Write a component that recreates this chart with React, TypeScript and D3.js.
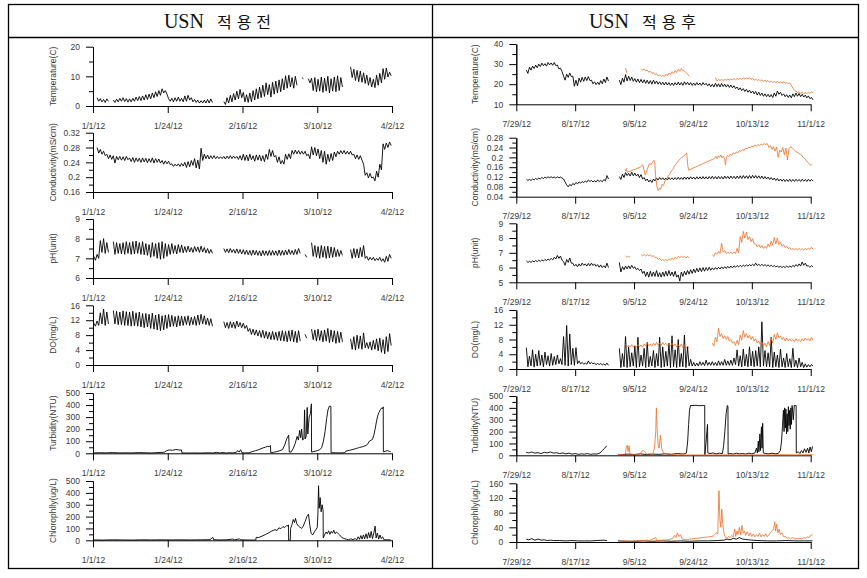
import React, { useEffect, useRef } from 'react'
import * as d3 from 'd3'

const _ = null

// x axis: days counted from the first tick date
const leftTickLabels = ['1/1/12', '1/24/12', '2/16/12', '3/10/12', '4/2/12']
const leftTickDays = [0, 23, 46, 69, 92]
const rightTickLabels = ['7/29/12', '8/17/12', '9/5/12', '9/24/12', '10/13/12', '11/1/12']
const rightTickDays = [0, 19, 38, 57, 76, 95]

const headerPrefix = 'USN'
const headerWords = ['적용전', '적용후']

const axisLabels = ['Temperature(C)', 'Conductivity(mS/cm)', 'pH(unit)', 'DO(mg/L)', 'Turbidity(NTU)', 'Chlorophlly(ug/L)']

const leftMajor = [
  [0, 10, 20],
  [0.16, 0.2, 0.24, 0.28, 0.32],
  [6, 7, 8, 9],
  [0, 4, 8, 12, 16],
  [0, 100, 200, 300, 400, 500],
  [0, 100, 200, 300, 400, 500]
]
const rightMajor = [
  [10, 20, 30, 40],
  [0.04, 0.08, 0.12, 0.16, 0.2, 0.24, 0.28],
  [5, 6, 7, 8, 9],
  [0, 4, 8, 12, 16],
  [0, 100, 200, 300, 400, 500],
  [0, 40, 80, 120, 160]
]

// ---- before USN (daily high / low readings, day 0 = 1/1/12) ----
const leftTempHi = [
  _, 2.8, 2.5, 2.2, 2.4, _, 2.0, 2.3, 2.6, 2.8,
  2.5, 2.4, 2.6, 3.0, 3.2, 3.4, 3.8, 4.0, 4.4, 4.8,
  5.2, 5.8, 5.2, 2.5, 2.6, 2.8, 3.0, 2.6, 3.4, 3.6,
  2.8, 2.2, 2.0, 1.8, 2.0, 2.2, 2.4, _, _, _,
  1.5, 2.8, 3.6, 4.2, 5.0, 5.6, 4.6, 3.8, 4.4, 5.2,
  5.8, 6.4, 7.0, 7.8, 7.2, 8.0, 8.4, 8.8, 9.2, 10.2,
  10.4, 9.6, 10.0, _, 9.6, _, 9.2, 9.4, 9.6, 9.0,
  9.8, 9.4, 10.0, 9.2, 9.8, 10.2, 9.6, _, _, 13.2,
  12.4, 12.0, 11.8, 11.2, 10.4, 9.6, 9.0, 10.4, 11.0, 12.6,
  12.8, 11.4
]
const leftTempLo = [
  _, 1.6, 1.4, 1.2, 1.6, _, 1.2, 1.4, 1.6, 1.5,
  1.3, 1.4, 1.6, 1.8, 1.8, 2.0, 2.2, 2.4, 2.8, 3.2,
  3.6, 4.4, 4.0, 1.6, 1.4, 1.6, 1.6, 1.4, 1.6, 2.0,
  1.4, 1.2, 1.0, 1.0, 1.0, 1.0, 1.2, _, _, _,
  0.5, 1.0, 1.4, 2.0, 2.4, 2.8, 1.4, 1.2, 1.4, 2.0,
  2.4, 2.8, 3.2, 3.8, 3.0, 4.0, 4.4, 4.8, 5.4, 6.0,
  6.4, 6.0, 7.0, _, 9.2, _, 7.8, 5.2, 4.8, 5.0,
  4.6, 5.0, 4.4, 5.0, 4.8, 5.2, 6.4, _, _, 9.6,
  8.6, 8.2, 8.0, 7.6, 7.0, 6.4, 6.2, 7.0, 7.8, 9.0,
  9.8, 10.2
]
const leftCondHi = [
  _, 0.280, 0.275, 0.270, 0.262, 0.260, 0.258, 0.256, 0.256, 0.255,
  0.256, 0.252, 0.253, 0.252, 0.251, 0.252, 0.251, 0.250, 0.252, 0.250,
  0.249, 0.245, 0.244, 0.243, 0.236, 0.235, 0.236, 0.237, 0.240, 0.242,
  0.245, 0.250, 0.246, 0.278, 0.262, 0.260, 0.258, 0.258, 0.256, 0.255,
  0.256, 0.257, 0.258, 0.257, 0.256, 0.258, 0.262, 0.260, 0.262, 0.258,
  0.260, 0.260, 0.258, 0.262, 0.275, 0.272, 0.258, 0.255, 0.245, 0.262,
  0.263, 0.272, 0.273, 0.272, 0.270, 0.270, 0.262, 0.282, 0.280, 0.276,
  0.272, 0.270, 0.262, 0.264, 0.268, 0.270, 0.272, 0.272, 0.270, 0.270,
  0.262, 0.260, 0.258, 0.235, 0.212, 0.210, 0.200, 0.216, 0.235, 0.290,
  0.292, 0.295
]
const leftCondLo = [
  _, 0.265, 0.262, 0.258, 0.250, 0.248, 0.238, 0.247, 0.246, 0.245,
  0.247, 0.242, 0.240, 0.242, 0.240, 0.241, 0.239, 0.240, 0.238, 0.240,
  0.238, 0.235, 0.236, 0.234, 0.229, 0.230, 0.229, 0.230, 0.226, 0.228,
  0.232, 0.225, 0.222, 0.245, 0.250, 0.249, 0.250, 0.250, 0.250, 0.250,
  0.249, 0.250, 0.250, 0.251, 0.248, 0.246, 0.245, 0.244, 0.247, 0.243,
  0.246, 0.244, 0.242, 0.248, 0.256, 0.255, 0.240, 0.236, 0.235, 0.248,
  0.250, 0.262, 0.263, 0.262, 0.262, 0.258, 0.250, 0.260, 0.258, 0.250,
  0.240, 0.235, 0.242, 0.245, 0.255, 0.262, 0.263, 0.262, 0.262, 0.260,
  0.250, 0.248, 0.246, 0.205, 0.198, 0.198, 0.190, 0.200, 0.220, 0.275,
  0.280, 0.285
]
const leftPhHi = [
  7.10, 7.20, 7.90, 8.00, 7.80, _, 7.85, 7.80, 7.75, 7.80,
  7.85, 7.80, 7.85, 7.88, 7.80, 7.85, 7.75, 7.70, 7.80, 7.75,
  7.80, 7.85, 7.75, 7.70, 7.75, 7.65, 7.70, 7.68, 7.60, 7.62,
  7.55, 7.60, 7.58, 7.62, 7.55, 7.50, 7.45, _, _, _,
  7.50, 7.48, 7.50, 7.46, 7.48, 7.45, 7.44, 7.42, 7.40, 7.42,
  7.40, 7.38, 7.40, 7.38, 7.40, 7.40, 7.38, 7.42, 7.40, 7.42,
  7.45, 7.40, 7.45, 7.50, _, 7.20, _, 7.80, 7.65, 7.60,
  7.65, 7.60, 7.62, 7.58, 7.55, 7.45, 7.40, _, _, 7.45,
  7.50, 7.48, 7.55, 7.65, 7.10, 7.05, 7.05, 7.00, 7.05, 6.98,
  7.10, 7.20
]
const leftPhLo = [
  6.90, 7.00, 7.30, 7.25, 7.30, _, 7.20, 7.25, 7.22, 7.20,
  7.25, 7.20, 7.22, 7.25, 7.20, 7.18, 7.15, 7.05, 7.10, 7.00,
  6.95, 7.00, 7.10, 7.20, 7.25, 7.22, 7.30, 7.28, 7.30, 7.32,
  7.30, 7.35, 7.30, 7.32, 7.28, 7.25, 7.25, _, _, _,
  7.30, 7.28, 7.30, 7.26, 7.25, 7.22, 7.20, 7.18, 7.15, 7.17,
  7.15, 7.12, 7.15, 7.14, 7.15, 7.16, 7.14, 7.15, 7.16, 7.18,
  7.20, 7.18, 7.20, 7.25, _, 7.05, _, 7.10, 7.05, 7.00,
  7.05, 7.00, 7.02, 7.05, 7.08, 7.10, 7.15, _, _, 7.00,
  7.05, 7.02, 7.08, 7.00, 6.90, 6.92, 6.88, 6.90, 6.85, 6.80,
  6.85, 7.00
]
const leftDoHi = [
  11.2, 11.8, 14.0, 15.0, 14.2, _, 14.6, 14.4, 14.2, 14.5,
  14.3, 14.2, 14.4, 14.0, 14.2, 13.8, 13.8, 13.6, 13.9, 13.4,
  13.6, 13.2, 13.4, 13.5, 13.3, 13.0, 13.2, 13.1, 13.0, 13.2,
  12.8, 13.0, 13.4, 13.6, 13.2, 12.6, 12.4, _, _, _,
  11.6, 11.4, 11.6, 11.5, 11.8, 11.4, 11.2, 10.6, 9.8, 9.6,
  9.4, 9.2, 9.3, 9.0, 8.8, 9.0, 8.8, 9.0, 9.2, 9.0,
  9.2, 9.4, 9.0, 9.2, _, 8.2, _, 9.6, 9.4, 9.6,
  9.2, 9.4, 9.8, 9.4, 9.2, 9.0, 8.8, _, _, 7.0,
  7.6, 8.0, 7.8, 8.6, 6.0, 6.2, 6.6, 7.0, 7.2, 6.8,
  7.6, 8.4
]
const leftDoLo = [
  10.4, 10.6, 11.0, 10.6, 11.0, _, 11.0, 10.8, 10.8, 10.6,
  10.6, 10.4, 10.5, 10.4, 10.2, 10.0, 10.2, 9.8, 9.6, 9.4,
  9.2, 9.4, 9.8, 10.2, 10.4, 10.2, 10.5, 10.6, 10.8, 10.6,
  10.8, 10.6, 10.8, 11.0, 10.8, 10.6, 10.4, _, _, _,
  10.0, 9.8, 10.0, 9.8, 10.2, 10.0, 9.8, 9.0, 8.2, 8.0,
  7.8, 7.4, 7.2, 7.0, 6.8, 6.8, 6.6, 6.5, 6.4, 6.2,
  6.4, 6.2, 6.0, 6.4, _, 7.2, _, 6.8, 6.4, 6.6,
  6.2, 6.4, 6.0, 6.2, 5.8, 6.0, 6.2, _, _, 4.2,
  4.0, 4.4, 4.2, 4.6, 4.4, 4.0, 4.2, 3.8, 3.4, 3.0,
  3.6, 5.2
]
// [day, value]
const leftTurb = [
  [0.3, 3], [2, 5], [4, 3], [6, 6], [8, 3], [10, 4], [12, 3], [14, 6], [16, 4], [18, 3], [20, 6], [22, 9],
  [22.7, 22], [23.5, 28], [24.5, 25], [25.5, 32], [26.5, 27], [27.2, 28], [27.4, 3], [29, 2], [31, 3], [33, 2],
  [35, 4], [37, 3], [38, 8], [39, 3], [40, 6], [41, 2], [42, 5], [43, 3], [44, 8], [44.6, 22], [45, 10],
  [45.4, 30], [45.8, 6], [46.5, 3], [48, 4], [49, 14], [50, 22], [51, 30], [52, 42], [53, 50], [53.6, 58],
  [54.2, 55], [54.6, 64], [54.7, 5], [55.5, 8], [56.5, 14], [57.5, 22], [58.3, 30], [59, 70], [59.6, 120],
  [60.2, 150], [60.4, 10], [61, 12], [61.6, 40], [62.2, 80], [62.8, 140], [63.2, 110], [63.6, 190], [63.9, 130],
  [64.2, 200], [64.5, 110], [64.9, 120], [65.1, 360], [65.3, 120], [65.6, 140], [65.9, 380], [66.1, 160],
  [66.5, 300], [66.9, 330], [67.2, 410], [67.25, 10], [68, 15], [69, 22], [69.8, 30], [70.4, 50], [70.9, 100],
  [71.4, 180], [71.9, 290], [72.3, 360], [72.7, 390], [73.2, 390], [73.25, 5], [74.5, 4], [76, 3], [77.5, 5],
  [77.8, 18], [79, 25], [80, 32], [81, 40], [82, 48], [83, 55], [84, 65], [84.5, 75], [85, 100], [85.5, 108],
  [86, 115], [86.4, 150], [86.8, 200], [87.2, 260], [87.6, 310], [88, 340], [88.4, 360], [88.8, 375],
  [89.1, 370], [89.3, 385], [89.35, 12], [90, 18], [90.6, 22], [91.2, 16], [91.6, 14]
]
const leftChl = [
  [0.3, 3], [3, 2], [6, 4], [9, 3], [12, 2], [15, 4], [18, 3], [21, 4], [24, 3], [27, 4], [30, 3], [33, 4],
  [36, 5], [36.9, 25], [37.1, 5], [39, 3], [41, 4], [43, 10], [43.6, 4], [45, 12], [45.5, 4], [47, 3], [49, 2],
  [50.1, 2], [50.2, 25], [51, 24], [52, 35], [53, 48], [54, 62], [55, 78], [56, 90], [56.6, 82], [57.2, 105],
  [57.8, 98], [58.4, 115], [59, 108], [59.6, 125], [60, 120], [60.15, 130], [60.2, 0], [60.7, 0], [60.8, 100],
  [61.2, 130], [61.6, 175], [62, 150], [62.3, 185], [62.7, 140], [63.2, 120], [63.7, 110], [64.2, 100],
  [64.7, 120], [65.3, 160], [65.8, 200], [66.3, 220], [66.7, 130], [67.1, 60], [67.6, 45], [68.1, 70],
  [68.6, 90], [69, 110], [69.2, 220], [69.4, 460], [69.6, 270], [69.9, 360], [70.2, 240], [70.5, 300],
  [70.8, 250], [70.85, 20], [71.3, 50], [71.7, 70], [72.1, 55], [72.5, 80], [72.9, 50], [73.3, 75], [73.7, 60],
  [74.1, 85], [74.5, 55], [74.9, 70], [75.3, 60], [75.9, 45], [76.5, 25], [77.2, 15], [77.9, 10], [78.6, 5],
  [79.3, 12], [80, 6], [80.7, 14], [81.2, 5], [81.6, 30], [82, 8], [82.4, 40], [82.8, 10], [83.2, 45],
  [83.6, 12], [84, 55], [84.4, 15], [84.8, 65], [85.2, 20], [85.6, 75], [86, 15], [86.4, 60], [86.8, 120],
  [87.1, 20], [87.5, 60], [87.9, 10], [88.3, 45], [88.7, 15], [89.1, 30], [89.5, 5], [90.5, 4], [91.6, 4]
]

// ---- after USN (day 0 = 7/29/12); black = site A, orange = site B ----
const rightTempHi = [
  _, _, _, 27.0, 28.5, 29.0, 29.5, 30.0, 30.5, 30.2,
  30.8, 30.6, 30.8, 29.5, 28.0, 24.0, 25.0, 25.6, 24.0, 22.0,
  23.0, 23.4, 23.6, 23.8, 22.0, 21.2, 21.0, 21.8, 22.6, 23.6,
  _, _, _, 22.0, 23.0, 24.8, 24.0, 23.6, 22.8, 22.6,
  22.4, 22.2, 22.0, 21.8, 22.0, 21.6, 21.2, 21.0, 21.0, 20.8,
  20.6, 20.8, 21.0, 20.8, 21.2, 21.0, 20.8, 20.6, 20.8, 20.6,
  20.8, 20.4, 20.2, 20.0, 20.4, 20.2, 20.4, 20.0, 19.8, 19.6,
  19.2, 18.6, 18.2, 17.8, 17.4, 17.0, 16.6, 16.4, 16.0, 15.6,
  15.2, 15.0, 14.8, 15.6, 16.6, 16.0, 15.2, 14.8, 14.6, 15.2,
  15.6, 15.4, 15.0, 14.6, 14.2, 13.4
]
const rightTempLo = [
  _, _, _, 25.4, 27.0, 27.8, 28.2, 28.8, 29.2, 29.0,
  29.6, 29.4, 29.2, 27.6, 26.4, 22.0, 23.4, 23.8, 19.0, 19.2,
  21.0, 21.4, 21.8, 21.8, 20.2, 19.8, 19.8, 20.2, 20.8, 21.6,
  _, _, _, 19.8, 21.0, 21.6, 21.8, 21.4, 21.0, 20.8,
  20.6, 20.4, 20.2, 20.0, 20.2, 20.0, 19.8, 19.6, 19.6, 19.4,
  19.4, 19.6, 19.6, 19.4, 19.8, 19.6, 19.4, 19.4, 19.6, 19.4,
  19.6, 19.2, 18.8, 18.6, 18.8, 18.6, 18.8, 18.6, 18.4, 18.2,
  17.8, 17.2, 16.8, 16.4, 16.0, 15.6, 15.2, 14.6, 14.4, 14.0,
  13.8, 13.6, 13.4, 14.0, 15.0, 14.4, 13.8, 13.4, 13.2, 13.8,
  14.0, 13.8, 13.6, 13.2, 12.8, 12.2
]
const rightTempOrHi = [
  _, _, _, _, _, _, _, _, _, _,
  _, _, _, _, _, _, _, _, _, _,
  _, _, _, _, _, _, _, _, _, _,
  _, _, _, _, _, 28.0, _, _, _, _,
  27.8, 27.6, 27.0, 26.4, 25.8, 25.2, 24.6, 24.4, 25.0, 25.6,
  26.2, 26.8, 27.4, 27.8, 26.6, 25.0, _, _, _, _,
  _, _, _, _, 23.2, 22.4, 22.4, 22.4, 22.6, 22.6,
  22.8, 22.8, 23.0, 23.2, 23.2, 23.2, 22.8, 22.6, 22.4, 22.2,
  22.0, 21.8, 21.6, 21.4, 21.4, 21.2, 21.2, 21.0, 20.6, 18.0,
  16.6, 16.2, 16.0, 15.8, 16.0, 16.2
]
const rightTempOrLo = [
  _, _, _, _, _, _, _, _, _, _,
  _, _, _, _, _, _, _, _, _, _,
  _, _, _, _, _, _, _, _, _, _,
  _, _, _, _, _, 25.4, _, _, _, _,
  27.0, 26.6, 26.0, 25.4, 24.8, 24.2, 23.8, 23.8, 24.2, 24.8,
  25.4, 25.8, 26.4, 26.8, 25.8, 24.0, _, _, _, _,
  _, _, _, _, 21.6, 21.8, 21.8, 22.0, 22.0, 22.2,
  22.2, 22.4, 22.4, 22.6, 22.8, 22.4, 22.0, 21.8, 21.6, 21.4,
  21.2, 21.0, 20.8, 20.8, 20.6, 20.6, 20.4, 20.2, 19.4, 17.0,
  15.8, 15.4, 15.2, 15.2, 15.4, 15.8
]
const rightCondHi = [
  _, _, _, 0.112, 0.110, 0.112, 0.114, 0.116, 0.118, 0.120,
  0.121, 0.121, 0.120, 0.121, 0.120, 0.112, 0.088, 0.090, 0.094, 0.098,
  0.100, 0.102, 0.104, 0.108, 0.106, 0.105, 0.108, 0.106, 0.110, 0.126,
  _, _, _, 0.122, 0.132, 0.138, 0.135, 0.140, 0.136, 0.132,
  0.130, 0.118, 0.112, 0.108, 0.112, 0.116, 0.118, 0.117, 0.116, 0.118,
  0.117, 0.118, 0.119, 0.118, 0.120, 0.120, 0.121, 0.120, 0.121, 0.121,
  0.122, 0.121, 0.122, 0.123, 0.122, 0.123, 0.122, 0.124, 0.123, 0.124,
  0.123, 0.124, 0.125, 0.126, 0.125, 0.126, 0.127, 0.126, 0.125, 0.124,
  0.122, 0.120, 0.118, 0.116, 0.114, 0.112, 0.111, 0.110, 0.111, 0.110,
  0.111, 0.110, 0.111, 0.110, 0.111, 0.110
]
const rightCondLo = [
  _, _, _, 0.106, 0.106, 0.108, 0.110, 0.112, 0.114, 0.116,
  0.117, 0.117, 0.116, 0.117, 0.116, 0.100, 0.080, 0.084, 0.088, 0.092,
  0.095, 0.097, 0.099, 0.102, 0.100, 0.100, 0.102, 0.101, 0.104, 0.112,
  _, _, _, 0.110, 0.118, 0.126, 0.124, 0.125, 0.124, 0.118,
  0.112, 0.105, 0.100, 0.098, 0.104, 0.108, 0.110, 0.108, 0.108, 0.110,
  0.109, 0.110, 0.110, 0.110, 0.111, 0.111, 0.112, 0.111, 0.112, 0.112,
  0.112, 0.112, 0.113, 0.113, 0.112, 0.113, 0.112, 0.114, 0.113, 0.114,
  0.113, 0.114, 0.114, 0.115, 0.114, 0.115, 0.116, 0.115, 0.114, 0.113,
  0.112, 0.110, 0.108, 0.106, 0.104, 0.103, 0.102, 0.102, 0.102, 0.102,
  0.103, 0.102, 0.103, 0.102, 0.103, 0.103
]
const rightCondOr = [
  [35.2, 0.145], [35.5, 0.155], [35.8, 0.140], [36.3, 0.142], [38, 0.150], [40, 0.160], [40.8, 0.170],
  [41.2, 0.150], [41.6, 0.128], [42, 0.140], [42.5, 0.160], [43, 0.175], [43.5, 0.170], [44, 0.182],
  [44.4, 0.188], [44.7, 0.175], [45, 0.120], [45.4, 0.080], [45.8, 0.065], [46.2, 0.075], [46.6, 0.070],
  [47, 0.090], [47.5, 0.085], [48, 0.105], [48.5, 0.110], [49, 0.125], [49.5, 0.130], [50, 0.145],
  [50.5, 0.150], [51, 0.165], [51.5, 0.172], [52, 0.180], [52.5, 0.188], [53, 0.196], [53.5, 0.200],
  [54, 0.206], [54.5, 0.210], [55, 0.218], [55.3, 0.170], [55.6, 0.148], [64, 0.196], [64.4, 0.204],
  [64.8, 0.195], [65.2, 0.206], [65.6, 0.200], [66, 0.210], [66.4, 0.198], [66.8, 0.205], [67.2, 0.195],
  [67.5, 0.170], [67.8, 0.200], [68.2, 0.208], [68.6, 0.203], [69, 0.212], [69.5, 0.208], [70, 0.218],
  [70.5, 0.214], [71, 0.222], [71.5, 0.218], [72, 0.228], [72.5, 0.224], [73, 0.232], [73.5, 0.228],
  [74, 0.238], [74.5, 0.234], [75, 0.242], [75.5, 0.238], [76, 0.246], [76.5, 0.242], [77, 0.250],
  [77.5, 0.246], [78, 0.252], [78.5, 0.248], [79, 0.254], [79.5, 0.250], [80, 0.256], [80.5, 0.252],
  [81, 0.256], [81.5, 0.240], [82, 0.248], [82.5, 0.232], [83, 0.244], [83.5, 0.225], [84, 0.242],
  [84.5, 0.200], [85, 0.230], [85.5, 0.222], [86, 0.240], [86.5, 0.210], [87, 0.238], [87.5, 0.190],
  [88, 0.236], [88.5, 0.244], [89, 0.240], [89.5, 0.232], [90, 0.226], [90.5, 0.222], [91, 0.218],
  [91.5, 0.214], [92, 0.210], [92.5, 0.200], [93, 0.196], [93.5, 0.188], [94, 0.180], [94.5, 0.174],
  [95, 0.168], [95.5, 0.172]
]
const rightPhHi = [
  _, _, _, 6.45, 6.42, 6.45, 6.48, 6.50, 6.52, 6.55,
  6.58, 6.62, 6.70, 6.82, 6.78, 6.40, 6.55, 6.65, 6.30, 6.22,
  6.25, 6.30, 6.25, 6.28, 6.30, 6.25, 6.20, 6.18, 6.12, 6.30,
  _, _, _, 6.35, 6.05, 6.10, 6.12, 6.15, 6.05, 5.95,
  5.90, 5.75, 5.70, 5.75, 5.70, 5.80, 5.65, 5.70, 5.75, 5.80,
  5.70, 5.75, 5.50, 5.70, 5.75, 5.80, 5.85, 5.90, 5.95, 5.98,
  6.00, 6.00, 6.02, 5.98, 6.00, 6.02, 6.05, 6.06, 6.08, 6.10,
  6.12, 6.14, 6.15, 6.16, 6.18, 6.20, 6.22, 6.30, 6.22, 6.22,
  6.20, 6.18, 6.16, 6.14, 6.10, 6.08, 6.08, 6.10, 6.10, 6.15,
  6.20, 6.25, 6.38, 6.30, 6.12, 6.12
]
const rightPhLo = [
  _, _, _, 6.35, 6.35, 6.38, 6.40, 6.42, 6.44, 6.46,
  6.50, 6.52, 6.58, 6.62, 6.50, 6.15, 6.35, 6.30, 6.10, 6.05,
  6.10, 6.15, 6.10, 6.12, 6.14, 6.08, 6.02, 6.00, 5.98, 6.00,
  _, _, _, 5.70, 5.85, 5.90, 5.92, 5.95, 5.85, 5.80,
  5.60, 5.40, 5.35, 5.40, 5.40, 5.38, 5.35, 5.40, 5.42, 5.45,
  5.40, 5.35, 5.08, 5.40, 5.50, 5.55, 5.60, 5.65, 5.70, 5.72,
  5.75, 5.80, 5.82, 5.85, 5.88, 5.90, 5.92, 5.94, 5.96, 5.98,
  6.02, 6.04, 6.06, 6.08, 6.10, 6.12, 6.12, 6.14, 6.12, 6.12,
  6.10, 6.08, 6.06, 6.04, 6.02, 6.00, 6.00, 6.02, 6.02, 6.05,
  6.08, 6.10, 6.15, 6.10, 6.02, 6.04
]
const rightPhOrHi = [
  _, _, _, _, _, _, _, _, _, _,
  _, _, _, _, _, _, _, _, _, _,
  _, _, _, _, _, _, _, _, _, _,
  _, _, _, _, _, 6.78, 6.76, _, _, _,
  6.90, 6.88, 6.88, 6.85, 6.80, 6.70, 6.62, 6.55, 6.55, 6.60,
  6.65, 6.70, 6.75, 6.78, 6.75, 6.74, _, _, _, _,
  _, _, _, 6.85, 7.00, 7.10, 7.65, 7.15, 7.05, 7.05,
  7.05, 7.30, 8.10, 8.45, 8.40, 8.10, 7.95, 7.60, 7.55, 7.50,
  7.45, 7.60, 7.80, 8.05, 8.00, 7.70, 7.55, 7.45, 7.35, 7.28,
  7.30, 7.30, 7.28, 7.30, 7.32, 7.38
]
const rightPhOrLo = [
  _, _, _, _, _, _, _, _, _, _,
  _, _, _, _, _, _, _, _, _, _,
  _, _, _, _, _, _, _, _, _, _,
  _, _, _, _, _, 6.70, 6.70, _, _, _,
  6.80, 6.78, 6.80, 6.76, 6.68, 6.55, 6.48, 6.45, 6.45, 6.50,
  6.55, 6.60, 6.65, 6.68, 6.66, 6.66, _, _, _, _,
  _, _, _, 6.75, 6.90, 6.95, 7.05, 6.95, 6.95, 6.95,
  6.95, 7.00, 7.70, 8.00, 7.90, 7.75, 7.60, 7.40, 7.35, 7.30,
  7.30, 7.40, 7.50, 7.60, 7.55, 7.45, 7.35, 7.28, 7.22, 7.20,
  7.18, 7.20, 7.18, 7.20, 7.22, 7.25
]
const rightDoHi = [
  _, _, _, 5.8, 3.5, 5.2, 4.0, 5.0, 3.8, 4.6,
  3.6, 4.2, 3.4, 3.8, 2.8, 8.8, 11.8, 9.5, 5.6, 5.8,
  2.2, 1.8, 1.6, 2.2, 1.8, 1.6, 1.5, 1.5, 1.4, 1.6,
  _, _, _, 5.6, 4.2, 8.8, 6.0, 4.4, 6.2, 8.6,
  3.8, 5.6, 7.2, 3.4, 5.0, 4.2, 8.6, 6.0, 4.8, 7.0,
  9.0, 5.2, 8.0, 4.2, 9.2, 6.0, 2.6, 1.8, 1.6, 2.0,
  1.8, 2.4, 1.8, 2.0, 1.8, 2.2, 2.0, 2.6, 2.2, 2.4,
  3.0, 5.2, 3.6, 5.4, 4.0, 6.0, 4.8, 5.0, 6.0, 12.8,
  5.0, 4.4, 8.6, 4.6, 3.8, 5.4, 3.0, 4.2, 2.8, 5.6,
  2.4, 3.0, 1.8, 1.4, 1.2, 1.2
]
const rightDoLo = [
  _, _, _, 0.6, 0.8, 0.5, 0.8, 1.0, 0.6, 1.2,
  0.8, 1.0, 1.2, 1.4, 1.2, 1.0, 0.8, 1.2, 1.0, 1.4,
  1.4, 1.3, 1.3, 1.4, 1.4, 1.2, 1.2, 1.1, 1.0, 1.0,
  _, _, _, 0.4, 0.6, 0.4, 0.6, 0.8, 0.4, 0.6,
  0.8, 0.4, 0.6, 0.8, 0.4, 0.8, 0.4, 0.6, 0.8, 0.4,
  0.6, 0.4, 0.6, 0.6, 0.4, 0.8, 0.8, 0.8, 0.8, 1.0,
  0.9, 1.0, 1.0, 1.0, 0.9, 1.0, 1.0, 1.0, 1.0, 1.0,
  1.2, 0.8, 0.6, 0.8, 0.6, 0.8, 0.6, 0.8, 0.6, 0.8,
  0.6, 0.6, 0.4, 0.6, 0.4, 0.6, 0.4, 0.6, 0.4, 0.6,
  0.4, 0.6, 0.4, 0.5, 0.6, 0.8
]
const rightDoOrHi = [
  _, _, _, _, _, _, _, _, _, _,
  _, _, _, _, _, _, _, _, _, _,
  _, _, _, _, _, _, _, _, _, _,
  _, _, _, _, _, 6.8, 6.5, 6.6, 6.4, 6.6,
  6.5, 6.8, 7.0, 6.8, 7.0, 7.2, 7.0, 7.2, 7.0, 6.8,
  7.0, 6.8, 6.6, 6.8, 6.4, 6.2, _, _, _, _,
  _, _, _, 7.0, 8.6, 11.0, 9.6, 9.0, 8.8, 8.0,
  7.4, 7.8, 9.2, 10.4, 9.6, 9.2, 8.8, 8.2, 7.6, 7.2,
  7.0, 7.4, 8.4, 9.4, 9.8, 9.0, 8.6, 8.4, 8.2, 8.0,
  8.2, 8.0, 8.2, 8.4, 8.2, 8.6
]
const rightDoOrLo = [
  _, _, _, _, _, _, _, _, _, _,
  _, _, _, _, _, _, _, _, _, _,
  _, _, _, _, _, _, _, _, _, _,
  _, _, _, _, _, 6.0, 6.0, 6.0, 5.9, 6.0,
  5.9, 6.2, 6.3, 6.2, 6.4, 6.5, 6.4, 6.6, 6.4, 6.2,
  6.2, 6.0, 6.0, 5.8, 5.6, 5.6, _, _, _, _,
  _, _, _, 6.2, 7.4, 8.8, 8.2, 8.0, 7.6, 7.0,
  6.4, 6.6, 7.8, 8.6, 8.4, 8.0, 7.6, 7.0, 6.6, 6.2,
  6.0, 6.4, 7.0, 8.0, 8.4, 8.0, 7.6, 7.6, 7.6, 7.4,
  7.6, 7.4, 7.6, 7.8, 7.6, 7.8
]
const rightTurb = [
  [3.2, 25], [4, 20], [5, 28], [6, 18], [7, 22], [8, 15], [9, 25], [10, 20], [11, 28], [12, 18], [13, 22],
  [14, 15], [15, 20], [16, 12], [17, 18], [18, 10], [19, 15], [20, 8], [21, 12], [22, 10], [23, 14], [24, 8],
  [25, 12], [26, 10], [27, 20], [27.8, 40], [28.5, 60], [29.2, 80], [29.3, _],
  [32.8, 8], [34, 5], [36, 10], [38, 6], [40, 12], [42, 6], [44, 10], [46, 8], [48, 12], [50, 8], [52, 15],
  [54, 10], [54.9, 20], [55.3, 120], [55.6, 260], [55.9, 380], [56.2, 420], [57, 420], [58, 422], [59, 418],
  [60, 420], [60.8, 420], [60.85, 5], [61.2, 100], [61.5, 200], [61.7, 260], [61.8, 20], [62.5, 15],
  [63.5, 20], [64.5, 12], [65.5, 18], [66.5, 15], [66.9, 80], [67.3, 200], [67.7, 350], [68.1, 420],
  [68.3, 410], [68.35, 10], [69, 15], [70, 10], [71, 18], [72, 12], [73, 15], [74, 10], [75, 18], [76, 12],
  [77, 20], [77.5, 60], [77.8, 20], [78.1, 120], [78.3, 30], [78.6, 180], [78.8, 40], [79.1, 240], [79.3, 60],
  [79.5, 270], [79.7, 20], [80.5, 15], [81.5, 12], [82.5, 18], [83.5, 12], [84.5, 15], [85.2, 40], [85.6, 120],
  [85.9, 250], [86.2, 380], [86.4, 200], [86.6, 400], [86.8, 230], [87, 390], [87.2, 180], [87.4, 350],
  [87.6, 200], [87.8, 410], [88, 250], [88.2, 380], [88.4, 220], [88.6, 400], [88.8, 260], [89, 420],
  [89.4, 300], [89.7, 420], [90.3, 420], [90.35, 20], [91, 30], [91.5, 15], [92, 40], [92.5, 20], [93, 55],
  [93.5, 25], [94, 60], [94.4, 20], [94.8, 70], [95.2, 30], [95.6, 75]
]
const rightTurbOr = [
  [32.8, 5], [34, 8], [35.2, 10], [35.5, 70], [35.8, 85], [36.1, 30], [36.4, 80], [36.7, 10], [38, 8],
  [40, 10], [40.5, 35], [41, 40], [41.5, 30], [42, 10], [43, 12], [44, 10], [44.6, 60], [45, 200],
  [45.2, 400], [45.5, 200], [45.8, 80], [46.1, 60], [46.5, 170], [46.9, 60], [47.5, 20], [48.5, 15],
  [50, 8], [52, 5], [55, 3], [60, 3], [65, 4], [70, 3], [75, 4], [80, 3], [85, 5], [90, 4], [95.6, 6]
]
const rightChl = [
  [3.2, 8], [4, 6], [5, 9], [6, 5], [7, 8], [8, 5], [9, 6], [10, 4], [11, 5], [12, 4], [14, 4], [16, 3],
  [18, 4], [20, 3], [22, 3], [24, 3], [26, 4], [28, 5], [29.3, 4], [29.4, _],
  [32.8, 3], [35, 2], [38, 2], [41, 3], [44, 2], [47, 3], [50, 2], [53, 3], [56, 2], [59, 3], [62, 3],
  [65, 4], [67, 5], [68, 8], [69, 6], [70, 10], [71, 8], [72, 12], [73, 8], [74, 7], [75, 6], [76, 5],
  [78, 4], [81, 3], [84, 3], [87, 4], [90, 3], [93, 3], [95.6, 3]
]
const rightChlOr = [
  [32.8, 2], [35, 3], [37, 2], [39, 4], [41, 3], [42, 5], [43, 4], [44, 8], [45, 12], [45.3, 4], [47, 5],
  [49, 6], [50.5, 10], [51, 18], [51.5, 12], [52, 25], [52.5, 15], [53, 20], [53.5, 8], [54.5, 6], [56, 8],
  [58, 10], [60, 12], [62, 14], [63.5, 16], [64, 20], [64.5, 25], [65, 22], [65.4, 140], [65.7, 60],
  [66, 40], [66.3, 90], [66.6, 50], [67, 25], [67.5, 12], [68, 10], [68.5, 15], [69, 12], [69.5, 18],
  [70, 14], [70.5, 35], [70.8, 15], [71.2, 30], [71.5, 20], [72, 40], [72.4, 20], [72.8, 45], [73.2, 25],
  [73.6, 30], [74, 18], [74.5, 28], [75, 16], [75.5, 25], [76, 15], [76.5, 22], [77, 14], [77.5, 20],
  [78, 15], [78.5, 24], [79, 14], [79.5, 20], [80, 15], [80.5, 22], [81, 14], [81.5, 20], [82, 25],
  [82.5, 30], [83, 35], [83.4, 55], [83.7, 30], [84, 48], [84.4, 25], [84.8, 35], [85.2, 20], [85.8, 25],
  [86.2, 15], [87, 14], [87.5, 10], [88, 12], [88.5, 8], [89, 12], [90, 8], [91, 10], [92, 9], [93, 12],
  [93.5, 10], [94, 15], [94.5, 12], [95, 18], [95.6, 20]
]

const BLACK = '#000'
const ORANGE = '#ef6d25'
const TEXT = '#3a3a3a'
const SANS = '"Liberation Sans", Arial, sans-serif'

type Pt = [number, number | null]

// each day: high reading then low reading
function zigzag (hi: (number | null)[], lo: (number | null)[]): Pt[] {
  const pts: Pt[] = []
  hi.forEach((h, i) => {
    if (h == null || lo[i] == null) {
      pts.push([i + 0.5, null])
      return
    }
    pts.push([i + 0.25, h])
    pts.push([i + 0.75, lo[i]])
  })
  return pts
}

const leftSeries = [
  [{ pts: zigzag(leftTempHi, leftTempLo), color: BLACK }],
  [{ pts: zigzag(leftCondHi, leftCondLo), color: BLACK }],
  [{ pts: zigzag(leftPhHi, leftPhLo), color: BLACK }],
  [{ pts: zigzag(leftDoHi, leftDoLo), color: BLACK }],
  [{ pts: leftTurb, color: BLACK }],
  [{ pts: leftChl, color: BLACK }]
]
const rightSeries = [
  [{ pts: zigzag(rightTempHi, rightTempLo), color: BLACK }, { pts: zigzag(rightTempOrHi, rightTempOrLo), color: ORANGE }],
  [{ pts: zigzag(rightCondHi, rightCondLo), color: BLACK }, { pts: rightCondOr, color: ORANGE }],
  [{ pts: zigzag(rightPhHi, rightPhLo), color: BLACK }, { pts: zigzag(rightPhOrHi, rightPhOrLo), color: ORANGE }],
  [{ pts: zigzag(rightDoHi, rightDoLo), color: BLACK }, { pts: zigzag(rightDoOrHi, rightDoOrLo), color: ORANGE }],
  [{ pts: rightTurb, color: BLACK }, { pts: rightTurbOr, color: ORANGE }],
  [{ pts: rightChl, color: BLACK }, { pts: rightChlOr, color: ORANGE }]
]

// layout: plot rows (top, bottom) for each column
const columns = [
  {
    x0: 93, x1: 392, days: 92, labelX: 53, titleX: 220,
    tickDays: leftTickDays, tickLabels: leftTickLabels, word: headerWords[0],
    rows: [[46.7, 106], [132.7, 192], [219, 278], [305.3, 365], [393, 453.3], [481, 540.3]],
    major: leftMajor, series: leftSeries
  },
  {
    x0: 516.3, x1: 810.7, days: 95, labelX: 475, titleX: 645,
    tickDays: rightTickDays, tickLabels: rightTickLabels, word: headerWords[1],
    rows: [[44, 104.3], [137.7, 196.7], [223.3, 282.3], [310, 369], [396, 455.3], [483.3, 542]],
    major: rightMajor, series: rightSeries
  }
]

function styleAxis (g) {
  g.attr('font-size', 8.5).attr('font-family', SANS)
  g.select('.domain').attr('stroke', BLACK).attr('stroke-width', 1)
  g.selectAll('.tick line').attr('stroke', BLACK).attr('stroke-width', 1)
  g.selectAll('.tick text').attr('fill', TEXT)
}

export default function App () {
  const ref = useRef<SVGSVGElement>(null)

  useEffect(() => {
    const svg = d3.select(ref.current)
    svg.selectAll('*').remove()

    // table frame
    svg.append('rect')
      .attr('x', 8.5).attr('y', 4.5).attr('width', 850).attr('height', 564)
      .attr('fill', 'none').attr('stroke', BLACK).attr('stroke-width', 1.3)
    svg.append('line').attr('x1', 432.5).attr('x2', 432.5).attr('y1', 4.5).attr('y2', 568.5)
      .attr('stroke', BLACK).attr('stroke-width', 1.3)
    svg.append('line').attr('x1', 8.5).attr('x2', 858.5).attr('y1', 37.5).attr('y2', 37.5)
      .attr('stroke', BLACK).attr('stroke-width', 1.3)

    columns.forEach(col => {
      // header
      const title = svg.append('text')
        .attr('x', col.titleX).attr('y', 28)
        .attr('text-anchor', 'middle').attr('fill', '#111')
      title.append('tspan')
        .attr('font-family', '"Liberation Serif", "Times New Roman", serif')
        .attr('font-size', 20)
        .text(headerPrefix)
      title.append('tspan')
        .attr('dx', 13)
        .attr('font-family', '"Noto Sans CJK KR", sans-serif')
        .attr('font-size', 16)
        .attr('letter-spacing', 5)
        .text(col.word)

      const x = d3.scaleLinear().domain([0, col.days]).range([col.x0, col.x1])

      col.rows.forEach(([top, bottom], i) => {
        const major = col.major[i]
        const minor = major.slice(1).map((v, k) => (v + major[k]) / 2)
        const y = d3.scaleLinear().domain([major[0], major[major.length - 1]]).range([bottom, top])
        const g = svg.append('g')

        g.append('g')
          .attr('transform', `translate(${col.x0},0)`)
          .call(d3.axisLeft(y).tickValues(minor).tickSize(4).tickSizeOuter(0).tickFormat(() => ''))
          .call(styleAxis)
        g.append('g')
          .attr('transform', `translate(${col.x0},0)`)
          .call(d3.axisLeft(y).tickValues(major).tickSize(7).tickSizeOuter(0).tickPadding(6)
            .tickFormat(d => String(d)))
          .call(styleAxis)
        g.append('g')
          .attr('transform', `translate(0,${bottom})`)
          .call(d3.axisBottom(x).tickValues(col.tickDays).tickSize(7).tickSizeOuter(0).tickPadding(9.5)
            .tickFormat((d, k) => col.tickLabels[k]))
          .call(styleAxis)

        g.append('text')
          .attr('transform', `translate(${col.labelX},${(top + bottom) / 2}) rotate(-90)`)
          .attr('text-anchor', 'middle')
          .attr('dy', '0.35em')
          .attr('font-size', 8.5)
          .attr('font-family', SANS)
          .attr('fill', TEXT)
          .text(axisLabels[i])

        const line = d3.line<Pt>()
          .defined(d => d[1] != null)
          .x(d => x(d[0]))
          .y(d => y(d[1] as number))

        col.series[i].forEach(s => {
          g.append('path')
            .datum(s.pts as Pt[])
            .attr('d', line)
            .attr('fill', 'none')
            .attr('stroke', s.color)
            .attr('stroke-width', s.color === BLACK ? 0.9 : 0.8)
            .attr('stroke-linejoin', 'round')
        })
      })
    })
  }, [])

  return (
    <svg
      ref={ref}
      width={867}
      height={578}
      style={{ position: 'absolute', left: 0, top: 0, background: '#fff' }}
    />
  )
}
